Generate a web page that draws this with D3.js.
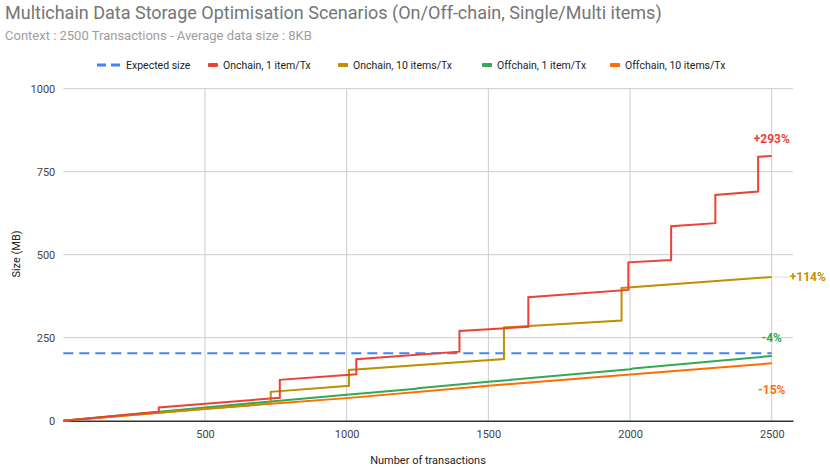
<!DOCTYPE html>
<html>
<head>
<meta charset="utf-8">
<script src="https://d3js.org/d3.v7.min.js"></script>
<style>
  body { margin: 0; background: #fff; }
  text { font-family: Roboto, Arial, sans-serif; }
</style>
</head>
<body>
<div id="chart"></div>
<script>

// series data: [transactions, size MB]
var expectedSize = [[0, 203], [2500, 203]];
var onchain1 = [[0, 0], [337, 27], [337, 40], [764, 69], [764, 123], [1034, 140], [1034, 185],
  [1398, 208], [1398, 270], [1641, 283], [1641, 372], [1994, 394], [1994, 477],
  [2145, 484], [2145, 586], [2301, 595], [2301, 680], [2452, 690], [2452, 795], [2500, 797]];
var onchain10 = [[0, 0], [732, 52], [732, 87], [1008, 105], [1008, 153], [1555, 186], [1555, 281],
  [1970, 302], [1970, 400], [2500, 433]];
var offchain1 = [[0, 0], [500, 40], [1000, 78], [1246, 96], [1250, 98], [1500, 117], [2000, 155], [2010, 157], [2500, 195]];
var offchain10 = [[0, 0], [500, 36], [1000, 68], [1500, 105], [2000, 139], [2500, 173]];

var seriesNames = ["Expected size", "Onchain, 1 item/Tx", "Onchain, 10 items/Tx", "Offchain, 1 item/Tx", "Offchain, 10 items/Tx"];
var seriesColors = ["#4285f4", "#ea4335", "#bf9000", "#34a853", "#ff6d01"];
var endLabels = [null, "+293%", "+114%", "-4%", "-15%"];

var xTicks = [500, 1000, 1500, 2000, 2500];
var yTicks = [0, 250, 500, 750, 1000];

var width = 830, height = 469;

var svg = d3.select("#chart")
  .append("svg")
    .attr("width", width)
    .attr("height", height);

var x = d3.scaleLinear().domain([0, 2575]).range([63.3, 793]);
var y = d3.scaleLinear().domain([0, 1000]).range([420.7, 88.7]);

// title + subtitle
svg.append("text")
  .attr("x", 5).attr("y", 19)
  .style("font-size", "18px")
  .style("fill", "#757575")
  .text("Multichain Data Storage Optimisation Scenarios (On/Off-chain, Single/Multi items)");

svg.append("text")
  .attr("x", 5).attr("y", 40)
  .style("font-size", "13px")
  .style("fill", "#9e9e9e")
  .text("Context : 2500 Transactions - Average data size : 8KB");

// gridlines
var grid = svg.append("g");
grid.selectAll(".hgrid")
  .data(yTicks.slice(1))
  .enter().append("line")
    .attr("x1", x.range()[0]).attr("x2", x.range()[1])
    .attr("y1", function(d) { return y(d); })
    .attr("y2", function(d) { return y(d); })
    .style("stroke", "#cccccc");
grid.selectAll(".vgrid")
  .data(xTicks)
  .enter().append("line")
    .attr("x1", function(d) { return x(d); })
    .attr("x2", function(d) { return x(d); })
    .attr("y1", y(1000)).attr("y2", y(0))
    .style("stroke", "#cccccc");

// axes
var xAxis = svg.append("g")
  .attr("transform", "translate(0," + y(0) + ")")
  .call(d3.axisBottom(x).tickValues(xTicks).tickFormat(d3.format("d")).tickSize(0).tickPadding(10));
xAxis.select(".domain").style("stroke", "#333").style("stroke-width", 1.5);
xAxis.selectAll("text").style("font-size", "11px").style("fill", "#444").style("font-family", "Roboto, Arial, sans-serif");

var yAxis = svg.append("g")
  .attr("transform", "translate(" + x.range()[0] + ",0)")
  .call(d3.axisLeft(y).tickValues(yTicks).tickFormat(d3.format("d")).tickSize(0).tickPadding(8));
yAxis.select(".domain").remove();
yAxis.selectAll("text").style("font-size", "11px").style("fill", "#444").style("font-family", "Roboto, Arial, sans-serif");

// axis titles
svg.append("text")
  .attr("x", 428).attr("y", 464)
  .attr("text-anchor", "middle")
  .style("font-size", "11px")
  .style("fill", "#222")
  .text("Number of transactions");

svg.append("text")
  .attr("transform", "translate(20,254) rotate(-90)")
  .attr("text-anchor", "middle")
  .style("font-size", "11px")
  .style("fill", "#222")
  .text("Size (MB)");

// lines
var line = d3.line()
  .x(function(d) { return x(d[0]); })
  .y(function(d) { return y(d[1]); });

var allSeries = [expectedSize, offchain10, offchain1, onchain10, onchain1];
var order = [0, 4, 3, 2, 1];
allSeries.forEach(function(s, i) {
  var k = order[i];
  svg.append("path")
    .datum(s)
    .attr("d", line)
    .style("fill", "none")
    .style("stroke", seriesColors[k])
    .style("stroke-width", 2)
    .style("stroke-dasharray", k === 0 ? "10,6" : null);
});

// end annotations
var seriesByIndex = [expectedSize, onchain1, onchain10, offchain1, offchain10];
var labelOffsets = [null, [0, -17], [17, 0], [0, -18], [0, 27]];
for (var i = 1; i < 5; i++) {
  var last = seriesByIndex[i][seriesByIndex[i].length - 1];
  var px = x(last[0]), py = y(last[1]);
  var off = labelOffsets[i];
  if (i === 2) {
    svg.append("line")
      .attr("x1", px).attr("x2", px + off[0])
      .attr("y1", py).attr("y2", py)
      .style("stroke", "#e0e0e0");
  }
  svg.append("text")
    .attr("x", px + off[0] + (i === 2 ? 1 : 0))
    .attr("y", py + off[1])
    .attr("dy", "0.35em")
    .attr("text-anchor", i === 2 ? "start" : "middle")
    .style("font-size", "12px")
    .style("font-weight", "bold")
    .style("fill", seriesColors[i])
    .text(endLabels[i]);
}

// legend
var legendX = [97, 208, 338, 482, 610];
var legend = svg.append("g").attr("transform", "translate(0,65)");
seriesNames.forEach(function(name, i) {
  var g = legend.append("g").attr("transform", "translate(" + legendX[i] + ",0)");
  if (i === 0) {
    g.append("line").attr("x1", 0).attr("x2", 9).attr("y1", 0).attr("y2", 0)
      .style("stroke", seriesColors[0]).style("stroke-width", 3);
    g.append("line").attr("x1", 14).attr("x2", 23).attr("y1", 0).attr("y2", 0)
      .style("stroke", seriesColors[0]).style("stroke-width", 3);
  } else {
    g.append("rect").attr("x", 0).attr("y", -2).attr("width", 10).attr("height", 4)
      .attr("rx", 1).style("fill", seriesColors[i]);
  }
  g.append("text")
    .attr("x", i === 0 ? 29 : 15)
    .attr("y", 0).attr("dy", "0.35em")
    .style("font-size", "10.5px")
    .style("fill", "#222")
    .text(name);
});

</script>
</body>
</html>
